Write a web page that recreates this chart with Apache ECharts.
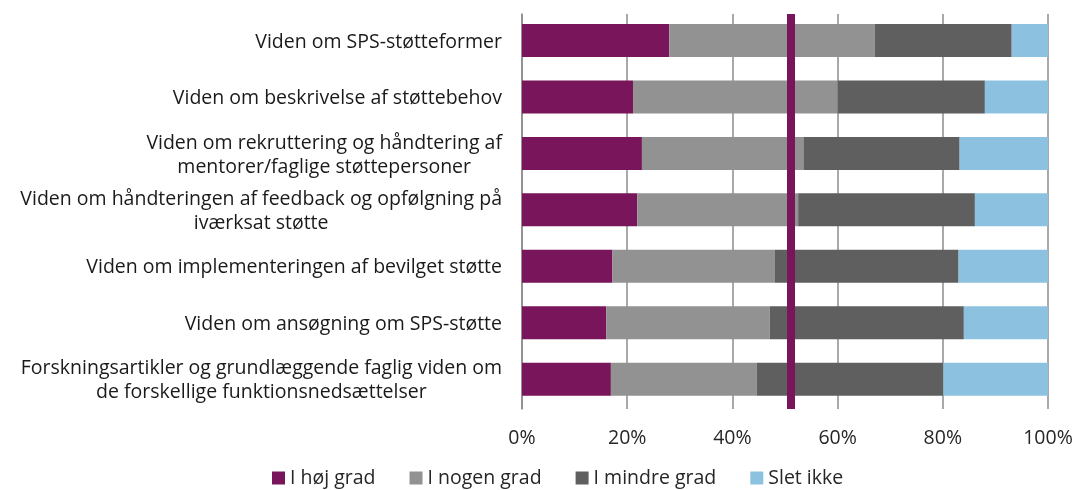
<!DOCTYPE html>
<html>
<head>
<meta charset="utf-8">
<script src="https://cdn.jsdelivr.net/npm/echarts@6/dist/echarts.min.js"></script>
<style>html,body{margin:0;padding:0;background:#fff}#c{width:1077px;height:490px}</style>
</head>
<body>
<div id="c"></div>
<script>
// categories listed bottom to top (ECharts category axis order)
const categories = [
  "Forskningsartikler og grundlæggende faglig viden om\nde forskellige funktionsnedsættelser",
  "Viden om ansøgning om SPS-støtte",
  "Viden om implementeringen af bevilget støtte",
  "Viden om håndteringen af feedback og opfølgning på\niværksat støtte",
  "Viden om rekruttering og håndtering af\nmentorer/faglige støttepersoner",
  "Viden om beskrivelse af støttebehov",
  "Viden om SPS-støtteformer"
];
const seriesNames = ["I høj grad", "I nogen grad", "I mindre grad", "Slet ikke"];
const hoejGrad    = [16.9, 16.0, 17.2, 21.9, 22.8, 21.1, 28.0];
const nogenGrad   = [27.7, 31.1, 30.9, 30.6, 30.7, 38.9, 39.1];
const mindreGrad  = [35.5, 36.9, 34.9, 33.6, 29.7, 28.0, 26.0];
const sletIkke    = [19.9, 16.0, 17.0, 13.9, 16.8, 12.0, 6.9];
const refLine = 51;
const xTicks = [0, 20, 40, 60, 80, 100];

const colors = ["#79155a", "#929292", "#5f5f5f", "#8cc2e0"];
const values = [hoejGrad, nogenGrad, mindreGrad, sletIkke];
const FONT = "Open Sans";

const series = seriesNames.map((n, i) => ({
  name: n, type: "bar", stack: "s", data: values[i], barWidth: 33,
  itemStyle: { color: colors[i] }, z: 2
}));
series.push({
  name: "ref", type: "bar", data: [], silent: true,
  markLine: {
    symbol: "none", silent: true, animation: false,
    label: { show: false },
    lineStyle: { color: "#79155a", width: 8, type: "solid" },
    data: [{ xAxis: refLine }]
  }, z: 5
});

const chart = echarts.init(document.getElementById("c"));
chart.setOption({
  animation: false,
  color: colors,
  grid: { left: 522, right: 29, top: 14, bottom: 81, containLabel: false },
  xAxis: {
    type: "value", min: 0, max: 100, interval: 20,
    axisLine: { show: false }, axisTick: { show: false },
    splitLine: { show: true, lineStyle: { color: "#8c8c8c", width: 1.5 } },
    axisLabel: { formatter: v => xTicks.includes(v) ? v + "%" : "", fontFamily: FONT, fontSize: 19.5, color: "#262626", margin: 19 }
  },
  yAxis: {
    type: "category", data: categories,
    axisLine: { show: true, lineStyle: { color: "#8c8c8c", width: 1.5 } },
    axisTick: { show: false },
    axisLabel: {
      margin: 20, align: "right",
      formatter: v => v.split("\n").map(l => "{c|" + l + "}").join("\n"),
      rich: { c: { align: "center", fontFamily: FONT, fontSize: 19.5, color: "#1a1a1a", lineHeight: 24 } }
    }
  },
  legend: {
    data: seriesNames, left: 272, top: 468, padding: 0, itemGap: 34,
    itemWidth: 13, itemHeight: 13, icon: "rect",
    textStyle: { fontFamily: FONT, fontSize: 19.5, color: "#262626" }
  },
  series: series
});
</script>
</body>
</html>
